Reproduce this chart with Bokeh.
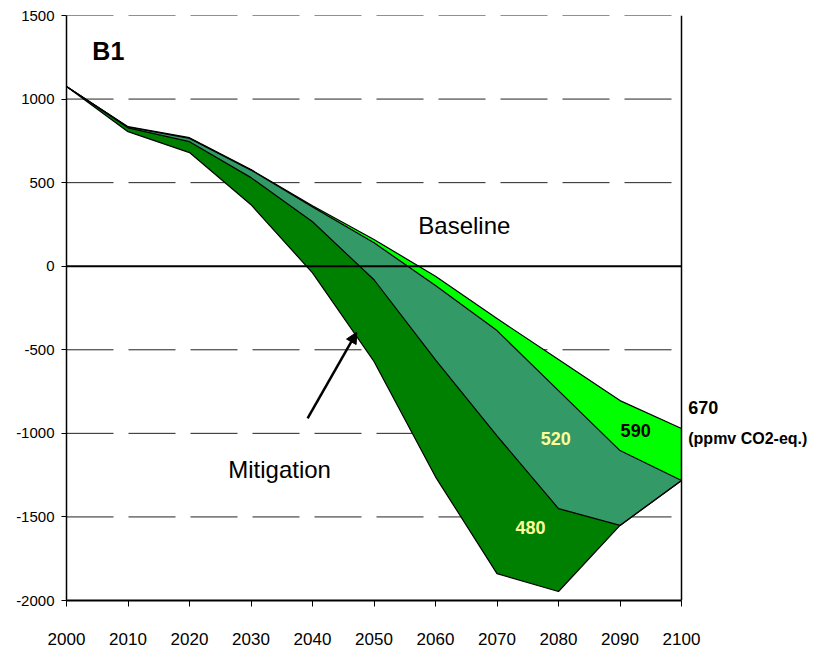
from bokeh.plotting import figure
from bokeh.models import Label, Arrow, NormalHead, FixedTicker
from bokeh.embed import file_html
from bokeh.resources import INLINE

years = [2000, 2010, 2020, 2030, 2040, 2050, 2060, 2070, 2080, 2090, 2100]
baseline_670 = [1075, 835, 769, 578, 362, 160, -60, -313, -558, -804, -971]
stab_590 = [1075, 833, 765, 575, 355, 140, -115, -385, -744, -1103, -1282]
stab_520 = [1075, 828, 745, 530, 266, -81, -560, -1015, -1450, -1551, -1282]
stab_480 = [1075, 805, 680, 368, -40, -570, -1260, -1839, -1946, -1551, -1282]

x_ticks = [2000, 2010, 2020, 2030, 2040, 2050, 2060, 2070, 2080, 2090, 2100]
y_ticks = [-2000, -1500, -1000, -500, 0, 500, 1000, 1500]
y_tick_labels = ["-2000", "-1500", "-1000", "-500", "0", "500", "1000", "1500"]

FONT = "Liberation Sans"
W, H = 826, 648
LEFT, TOP, BOTTOM = 66, 15, 48
PX_PER_YEAR = 6.15
x_start, x_end = x_ticks[0], x_ticks[-1]
# frame extends past 2100 so that the right-hand annotation has room
x_view_end = x_start + (W - LEFT) / PX_PER_YEAR

p = figure(width=W, height=H, x_range=(x_start, x_view_end), y_range=(y_ticks[0], y_ticks[-1]),
           output_backend="svg", toolbar_location=None,
           min_border_left=LEFT, min_border_right=0, min_border_top=TOP, min_border_bottom=BOTTOM)
p.outline_line_color = None

# dashed gridlines limited to the plot area (2000-2100)
grid_y = [t for t in y_ticks if t not in (0, y_ticks[0])]
p.segment(x0=[x_start] * len(grid_y), x1=[x_end] * len(grid_y), y0=grid_y, y1=grid_y,
          line_color="#222222", line_width=1, line_dash="47 15")

# bands
p.varea(x=years, y1=baseline_670, y2=stab_590, fill_color="#00FF00")
p.varea(x=years, y1=stab_590, y2=stab_520, fill_color="#339966")
p.varea(x=years, y1=stab_520, y2=stab_480, fill_color="#008000")
for ys in (baseline_670, stab_590, stab_520, stab_480):
    p.line(years, ys, line_color="black", line_width=1.2)

# zero line and right border
p.segment(x0=[x_start], x1=[x_end], y0=[0], y1=[0], line_color="black", line_width=2)
p.segment(x0=[x_end], x1=[x_end], y0=[y_ticks[0]], y1=[y_ticks[-1]], line_color="black", line_width=1.5)

# axes
p.xaxis.ticker = FixedTicker(ticks=x_ticks)
p.xaxis.bounds = (x_start, x_end)
p.yaxis.ticker = FixedTicker(ticks=y_ticks)
p.yaxis.major_label_overrides = {t: l for t, l in zip(y_ticks, y_tick_labels)}
for ax in (p.xaxis, p.yaxis):
    ax.axis_line_color = "black"
    ax.axis_line_width = 1.5
    ax.major_tick_line_color = "black"
    ax.major_tick_in = 0
    ax.minor_tick_line_color = None
    ax.major_label_text_font = FONT
    ax.major_label_text_color = "black"
p.xaxis.axis_line_width = 2
p.xaxis.major_tick_out = 6
p.yaxis.major_tick_out = 5
p.xaxis.major_label_text_font_size = "17px"
p.yaxis.major_label_text_font_size = "15px"
p.xaxis.major_label_standoff = 26
p.yaxis.major_label_standoff = 7
p.grid.grid_line_color = None

def lab(x, y, t, size, bold=False, color="black"):
    p.add_layout(Label(x=x, y=y, text=t, text_font=FONT, text_font_size=size,
                       text_font_style="bold" if bold else "normal", text_color=color,
                       text_baseline="alphabetic", text_align="left"))

lab(2004.2, 1285, "B1", "25px", bold=True)
lab(2057.2, 244, "Baseline", "24px")
lab(2026.3, -1215, "Mitigation", "24px")
lab(2077.1, -1031, "520", "18px", bold=True, color="#FFFF99")
lab(2073.0, -1563, "480", "18px", bold=True, color="#FFFF99")
lab(2090.1, -983, "590", "18px", bold=True)
lab(2101.1, -845, "670", "18px", bold=True)
lab(2101.1, -1031, "(ppmv CO2-eq.)", "16px", bold=True)

p.add_layout(Arrow(x_start=2039.2, y_start=-911, x_end=2047.2, y_end=-395,
                   line_color="black", line_width=2.5,
                   end=NormalHead(size=11, fill_color="black", line_color="black")))

open("out.html", "w").write(file_html(p, INLINE))
